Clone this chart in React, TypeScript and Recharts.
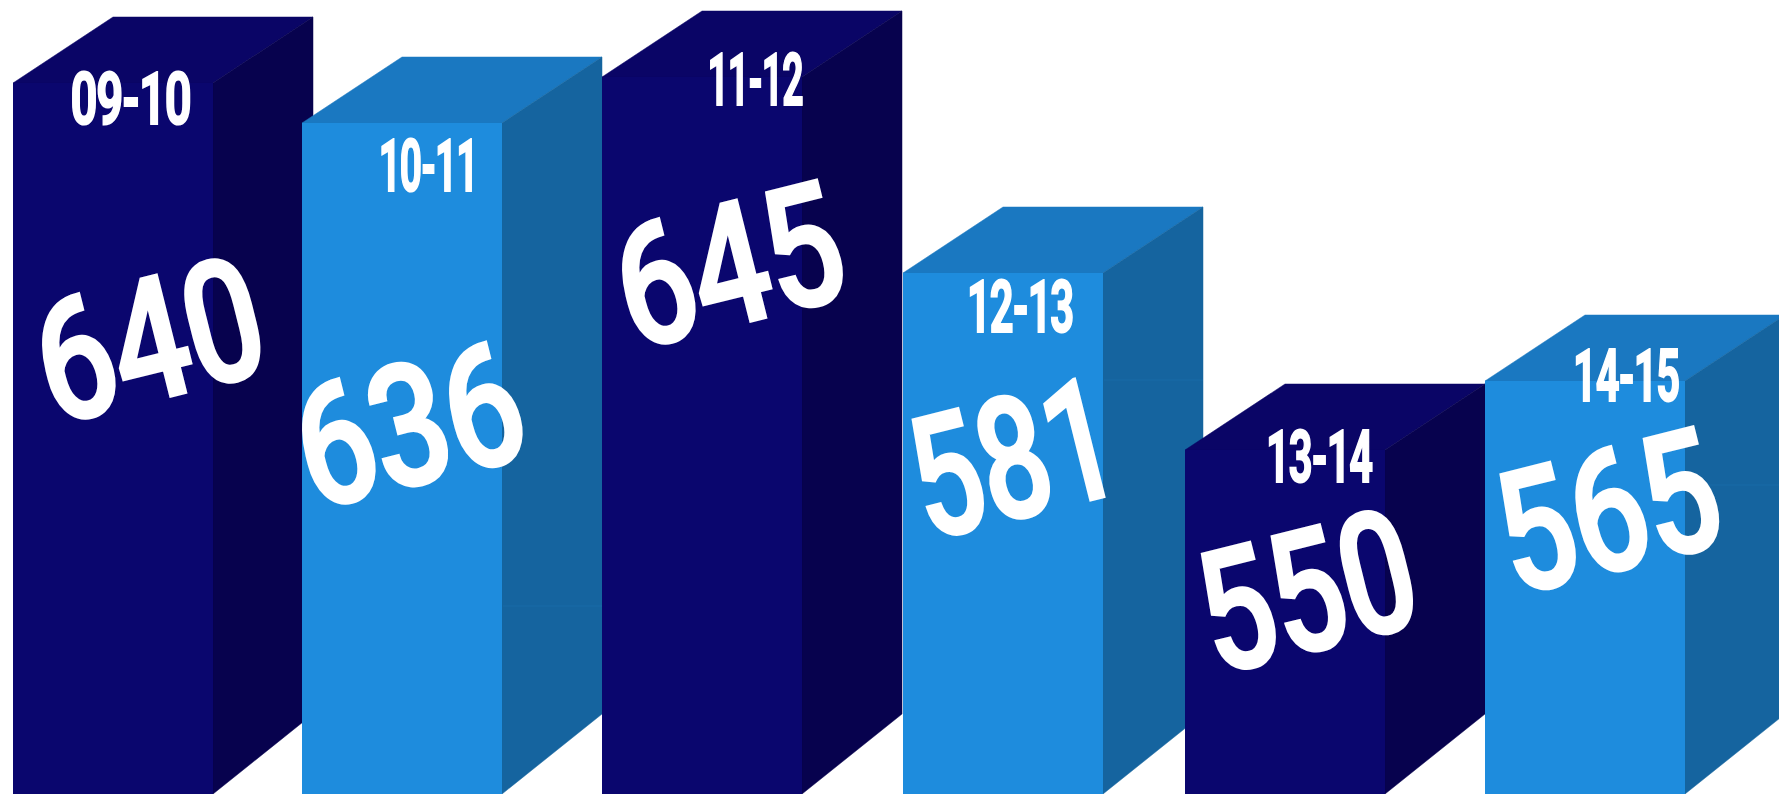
import { BarChart, Bar, XAxis, YAxis } from "recharts";

const seasons = ["09-10", "10-11", "11-12", "12-13", "13-14", "14-15"];
// numbers printed on the columns
const printedValues = [640, 636, 645, 581, 550, 565];
// the columns in the picture are not drawn to scale with their printed numbers,
// so this is the level each one really stands at
const drawnLevels = [643.5, 633.3, 645, 595, 550, 567.6];

const chartData = seasons.map((season, i) => ({
	season,
	printed: printedValues[i],
	level: drawnLevels[i],
}));

const DARK = { front: "#0a066e", side: "#07024e", top: "#0a0566", seam: "#07024e" };
const LIGHT = { front: "#1e8cdd", side: "#15649f", top: "#1a78c1", seam: "#186aa7" };

const DEPTH_X = 100;
const DEPTH_TOP = 66;
const DEPTH_BOTTOM = 80;
const FONT = "Roboto, sans-serif";

// the columns are not evenly spaced
const barNudge = [0, -5.5, 0, 7, -5.5, 0];
const seasonOffset = [
	[117.5, 14.5],
	[126, 42],
	[153, 1.5],
	[117, 33],
	[134, 5.5],
	[141, -6.5],
];
const valueOffset = [
	[135, 256],
	[106, 301],
	[126, 187],
	[109, 184],
	[121, 140],
	[122, 129],
];
// no condensed face is installed, so the text is squeezed per label
const seasonSqueeze = [0.645, 0.53, 0.51, 0.57, 0.57, 0.57];
const valueSqueeze = [0.8, 0.8, 0.8, 0.72, 0.76, 0.78];
// faint horizontal joins on the light columns' side faces, below the column top
const sideSeam = [0, 483, 0, 107, 0, 104];

function Column(props: any) {
	const { width, index, payload } = props;
	const x = Math.round(props.x + barNudge[index]);
	const y = Math.round(props.y);
	const bottom = Math.round(props.y + props.height);
	const colors = index % 2 === 0 ? DARK : LIGHT;
	const right = x + width;
	const top = `${x},${y} ${x + DEPTH_X},${y - DEPTH_TOP} ${right + DEPTH_X},${y - DEPTH_TOP} ${right},${y}`;
	const side = `${right},${y} ${right + DEPTH_X},${y - DEPTH_TOP} ${right + DEPTH_X},${bottom - DEPTH_BOTTOM} ${right},${bottom}`;
	const [sx, sy] = seasonOffset[index];
	const [vx, vy] = valueOffset[index];
	return (
		<g>
			<polygon points={top} fill={colors.top} stroke={colors.top} strokeWidth={0.5} />
			<polygon points={side} fill={colors.side} stroke={colors.side} strokeWidth={0.5} />
			{sideSeam[index] > 0 && (
				<line
					x1={right + 1}
					x2={right + DEPTH_X}
					y1={y + sideSeam[index]}
					y2={y + sideSeam[index]}
					stroke={colors.seam}
				/>
			)}
			<rect x={x} y={y} width={width} height={bottom - y} fill={colors.front} />
			<text
				transform={`translate(${x + sx},${y + sy}) scale(${seasonSqueeze[index]},1)`}
				textAnchor="middle"
				dy="0.358em"
				fontFamily={FONT}
				fontWeight={700}
				fontSize={73}
				letterSpacing={-2}
				fill="#ffffff"
				stroke="#ffffff"
				strokeWidth={2}
			>
				{payload.season}
			</text>
			<text
				transform={`translate(${x + vx},${y + vy}) rotate(-14) scale(${valueSqueeze[index]},1)`}
				textAnchor="middle"
				dy="0.358em"
				fontFamily={FONT}
				fontWeight={500}
				fontSize={170}
				letterSpacing={-2}
				fill="#ffffff"
				stroke="#ffffff"
				strokeWidth={3}
			>
				{payload.printed}
			</text>
		</g>
	);
}

export default function App() {
	return (
		<div
			style={{
				position: "absolute",
				left: 0,
				top: 0,
				width: 1779,
				height: 794,
				overflow: "hidden",
				background: "#ffffff",
			}}
		>
			<div style={{ marginLeft: -34 }}>
				<BarChart
					width={1840}
					height={794}
					data={chartData}
					margin={{ top: 0, right: 74, bottom: 0, left: 0 }}
				>
					<XAxis dataKey="season" hide />
					<YAxis hide domain={[462.5, 664.6]} />
					<Bar
						dataKey="level"
						barSize={200}
						isAnimationActive={false}
						shape={Column}
					/>
				</BarChart>
			</div>
		</div>
	);
}
